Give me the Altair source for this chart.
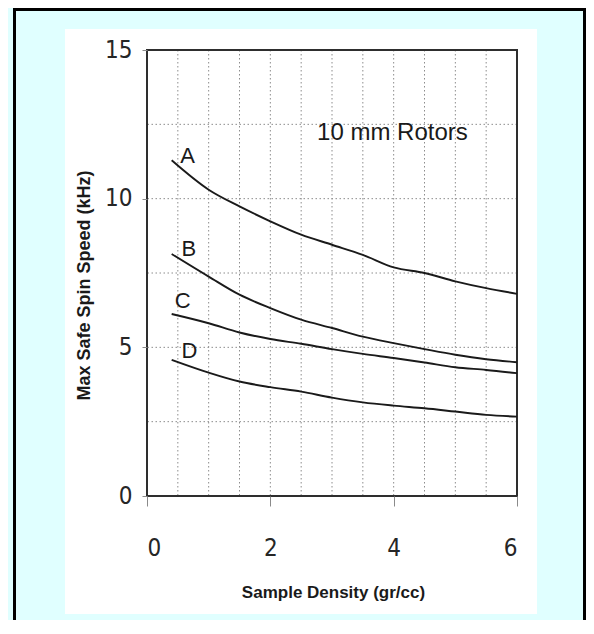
import altair as alt
import pandas as pd

# ---- data ----
density = [0.4, 1.0, 1.5, 2.0, 2.5, 3.0, 3.5, 4.0, 4.5, 5.0, 5.5, 6.0]
curve_a = [11.29, 10.30, 9.74, 9.24, 8.79, 8.45, 8.11, 7.69, 7.50, 7.22, 6.99, 6.80]
curve_b = [8.14, 7.38, 6.77, 6.32, 5.93, 5.65, 5.36, 5.14, 4.94, 4.75, 4.60, 4.50]
curve_c = [6.12, 5.81, 5.50, 5.28, 5.12, 4.94, 4.78, 4.64, 4.49, 4.33, 4.24, 4.13]
curve_d = [4.58, 4.15, 3.85, 3.66, 3.51, 3.31, 3.15, 3.04, 2.95, 2.84, 2.73, 2.67]
series_names = ["A", "B", "C", "D"]
label_x = [0.66, 0.68, 0.58, 0.69]
label_y = [11.43, 8.32, 6.55, 4.87]
note_x = [3.98]
note_y = [12.2]
note_text = ["10 mm Rotors"]
x_ticks = [0, 2, 4, 6]
y_ticks = [0, 5, 10, 15]
x_grid = [0.5, 1.0, 1.5, 2.0, 2.5, 3.0, 3.5, 4.0, 4.5, 5.0, 5.5]
y_grid = [2.5, 5.0, 7.5, 10.0, 12.5]

rows = []
for name, vals in zip(series_names, [curve_a, curve_b, curve_c, curve_d]):
    for xv, yv in zip(density, vals):
        rows.append({"x": xv, "y": yv, "series": name})
curves = pd.DataFrame(rows)
labels = pd.DataFrame({"x": label_x, "y": label_y, "text": series_names})
note = pd.DataFrame({"x": note_x, "y": note_y, "text": note_text})
vgrid = pd.DataFrame({"x": x_grid})
hgrid = pd.DataFrame({"y": y_grid})
one = pd.DataFrame({"k": [0]})

NARROW = "Liberation Sans Narrow, Arial Narrow, DejaVu Sans Condensed, Noto Sans Condensed, Liberation Sans, sans-serif"
SANS = "Liberation Sans, Arial, Helvetica, sans-serif"
INK = "#1a1a1a"

W, H = 370, 446

x_axis = alt.Axis(values=x_ticks, grid=False, domain=False, tickSize=10,
                  tickColor="#8a8a8a", tickWidth=1, labelFont=NARROW,
                  labelFontSize=24, labelColor="#262626", labelPadding=30,
                  title="Sample Density (gr/cc)", titleFont=SANS,
                  titleFontSize=17, titleFontWeight="bold", titleColor=INK,
                  titleX=186, titleY=96, titleBaseline="middle",
                  titleAlign="center", zindex=1)
y_axis = alt.Axis(values=y_ticks, grid=False, domain=False, tickSize=5,
                  tickColor="#8a8a8a", tickWidth=1, labelFont=NARROW,
                  labelFontSize=24, labelColor="#262626", labelPadding=10,
                  title="Max Safe Spin Speed (kHz)", titleFont=SANS,
                  titleFontSize=18, titleFontWeight="bold", titleColor=INK,
                  titleX=-63, titleY=235, titleAngle=270,
                  titleBaseline="middle", titleAlign="center", zindex=1)

xs = alt.Scale(domain=[0, 6], nice=False, zero=False)
ys = alt.Scale(domain=[0, 15], nice=False, zero=False)


def X(field="x:Q"):
    return alt.X(field, scale=xs, axis=x_axis)


def Y(field="y:Q"):
    return alt.Y(field, scale=ys, axis=y_axis)


# decorative page elements (white scanned panel and cyan frame border)
panel = alt.Chart(one).mark_rect(color="white").encode(
    x=alt.value(-82), x2=alt.value(390), y=alt.value(-21), y2=alt.value(564))
border_left = alt.Chart(one).mark_rect(color="black").encode(
    x=alt.value(-134), x2=alt.value(-131), y=alt.value(-42), y2=alt.value(570))
border_top = alt.Chart(one).mark_rect(color="black").encode(
    x=alt.value(-134), x2=alt.value(439), y=alt.value(-42), y2=alt.value(-39))
border_right = alt.Chart(one).mark_rect(color="black").encode(
    x=alt.value(436), x2=alt.value(439), y=alt.value(-42), y2=alt.value(570))

vg = alt.Chart(vgrid).mark_rule(color="#8c8c8c", strokeDash=[1.5, 2.5],
                                 strokeWidth=1).encode(x=X())
hg = alt.Chart(hgrid).mark_rule(color="#8c8c8c", strokeDash=[1.5, 2.5],
                                 strokeWidth=1).encode(y=Y())

frame = alt.Chart(one).mark_rect(filled=False, stroke="#2e2e2e",
                                 strokeWidth=2).encode(
    x=alt.XDatum(0, scale=xs, axis=x_axis), x2=alt.X2Datum(6),
    y=alt.YDatum(0, scale=ys, axis=y_axis), y2=alt.Y2Datum(15))

lines = alt.Chart(curves).mark_line(interpolate="monotone", color=INK,
                                    strokeWidth=1.9).encode(
    x=X(), y=Y(), detail="series:N")

lbl = alt.Chart(labels).mark_text(font=SANS, fontSize=22, color=INK,
                                  align="center", baseline="middle").encode(
    x=X(), y=Y(), text="text:N")

note_txt = alt.Chart(note).mark_text(font=SANS, fontSize=24, color=INK,
                                     align="center", baseline="middle").encode(
    x=X(), y=Y(), text="text:N")

chart = alt.layer(panel, border_left, border_top, border_right, vg, hg,
                  frame, lines, lbl, note_txt).properties(
    width=W, height=H,
    padding={"left": 139, "top": 42, "right": 69, "bottom": 124},
    autosize=alt.AutoSizeParams(type="none"),
    background="#E0FFFF",
).configure_view(stroke=None)

chart.save("out.html", embed_options={"renderer": "svg", "actions": False})
